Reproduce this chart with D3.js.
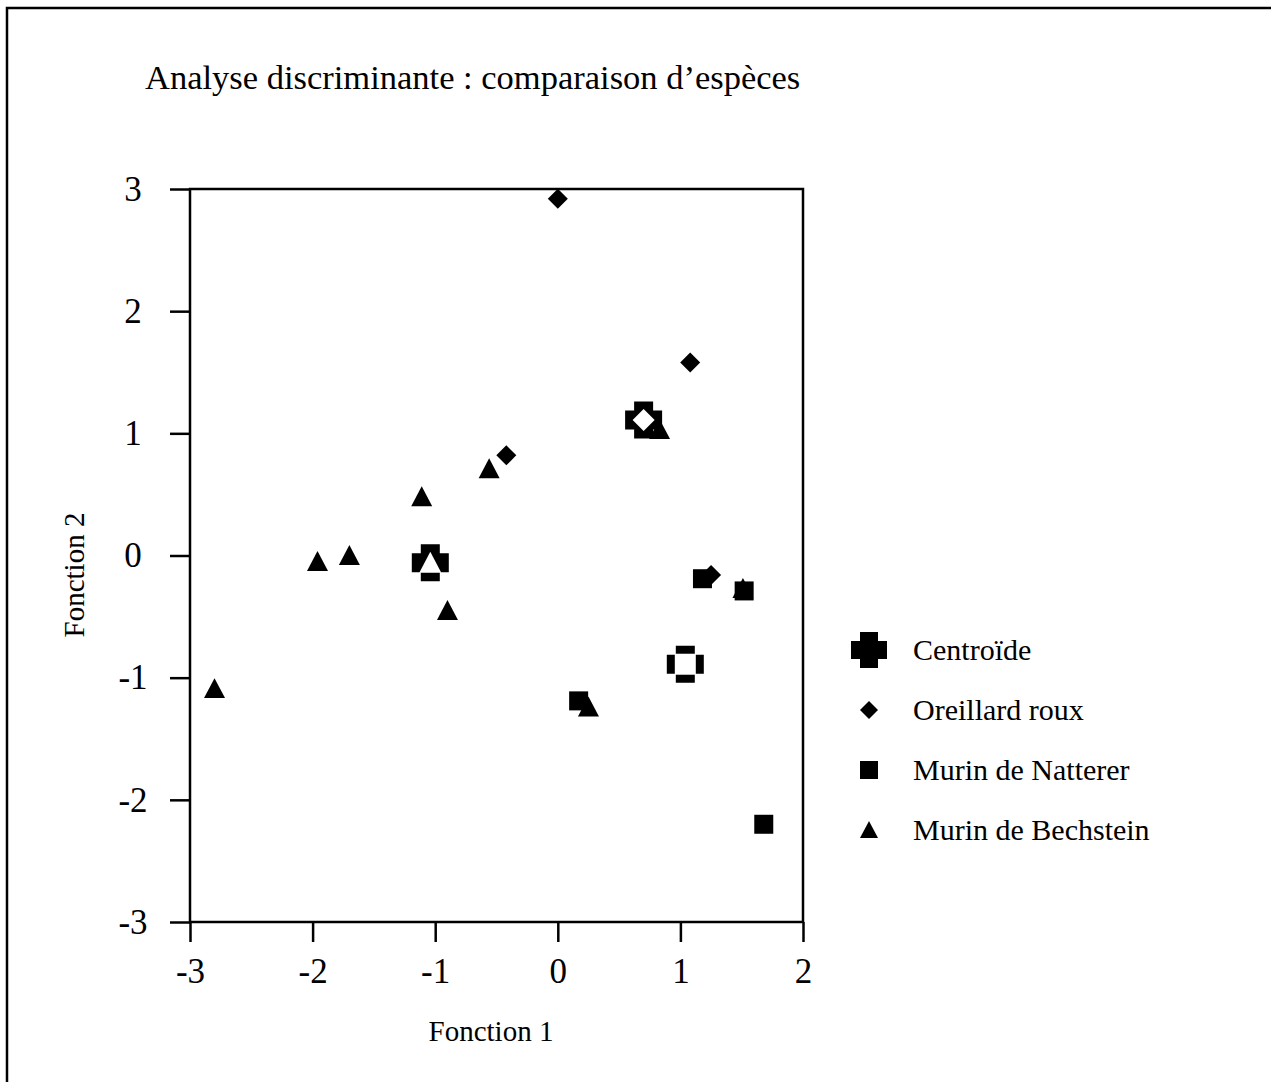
<!DOCTYPE html>
<html>
<head>
<meta charset="utf-8">
<script src="https://cdn.jsdelivr.net/npm/d3@7"></script>
<style>
  html, body { margin: 0; padding: 0; background: #fff; }
  svg { display: block; }
  text { font-family: "Liberation Serif", "Times New Roman", serif; fill: #000; }
</style>
</head>
<body>
<svg id="chart" width="1271" height="1082"></svg>
<script>
// Discriminant scores on the first two functions, one array per species
const oreillardX = [0.00, 1.08, -0.42, 1.25];
const oreillardY = [2.92, 1.58, 0.82, -0.16];

const nattererX = [1.18, 1.52, 0.17, 1.68];
const nattererY = [-0.19, -0.29, -1.19, -2.20];

const bechsteinX = [-2.80, -1.96, -1.70, -1.11, -0.90, -0.56, 0.83, 0.25, 1.51];
const bechsteinY = [-1.09, -0.05, 0.00, 0.48, -0.45, 0.71, 1.03, -1.24, -0.27];

// Group centroids (Oreillard roux, Murin de Natterer, Murin de Bechstein)
const centroidX = [0.70, 1.04, -1.04];
const centroidY = [1.11, -0.89, -0.06];
const centroidGroup = ["diamond", "square", "triangle"];

const xTicks = [-3, -2, -1, 0, 1, 2];
const yTicks = [-3, -2, -1, 0, 1, 2, 3];

const legendLabels = ["Centroïde", "Oreillard roux", "Murin de Natterer", "Murin de Bechstein"];
const legendShapes = ["centroid", "diamond", "square", "triangle"];

const titleText = "Analyse discriminante : comparaison d’espèces";
const xTitle = "Fonction 1";
const yTitle = "Fonction 2";

const svg = d3.select("#chart");

// outer frame
svg.append("rect")
  .attr("x", 7).attr("y", 8).attr("width", 1280).attr("height", 1100)
  .attr("fill", "none").attr("stroke", "#000").attr("stroke-width", 2.5);

const plot = { left: 190, right: 803, top: 189, bottom: 922 };
const x = d3.scaleLinear().domain([-3, 2]).range([plot.left, plot.right]);
const y = d3.scaleLinear().domain([-3, 3]).range([plot.bottom, plot.top]);

// title
svg.append("text")
  .attr("x", 145).attr("y", 89)
  .attr("font-size", 34.5)
  .text(titleText);

// plot box
svg.append("rect")
  .attr("x", plot.left).attr("y", plot.top)
  .attr("width", plot.right - plot.left).attr("height", plot.bottom - plot.top)
  .attr("fill", "none").attr("stroke", "#000").attr("stroke-width", 2.5);

// axes
const xAxis = svg.append("g")
  .attr("transform", `translate(0,${plot.bottom})`)
  .call(d3.axisBottom(x).tickValues(xTicks).tickSize(20).tickPadding(16).tickFormat(d3.format("d")));
const yAxis = svg.append("g")
  .attr("transform", `translate(${plot.left},0)`)
  .call(d3.axisLeft(y).tickValues(yTicks).tickSize(20).tickPadding(22).tickFormat(d3.format("d")));

[xAxis, yAxis].forEach(g => {
  g.select(".domain").remove();
  g.selectAll(".tick line").attr("stroke", "#000").attr("stroke-width", 2.5);
  g.selectAll(".tick text")
    .attr("font-family", "Liberation Serif, serif")
    .attr("font-size", 35)
    .attr("fill", "#000")
    .text(d => d < 0 ? "-" + Math.abs(d) : String(d));
});
// vertical-axis labels sit centred in their column
yAxis.selectAll(".tick text").attr("text-anchor", "middle").attr("x", -57);

// axis titles
svg.append("text")
  .attr("x", 491).attr("y", 1041)
  .attr("text-anchor", "middle")
  .attr("font-size", 29)
  .text(xTitle);
svg.append("text")
  .attr("transform", "translate(84,575) rotate(-90)")
  .attr("text-anchor", "middle")
  .attr("font-size", 29)
  .text(yTitle);

// marker paths, centred on the origin
function shapePath(kind, s) {
  const h = s / 2;
  if (kind === "diamond") return `M0,${-h}L${h},0L0,${h}L${-h},0Z`;
  if (kind === "square") return `M${-h},${-h}H${h}V${h}H${-h}Z`;
  if (kind === "triangle") {
    return `M0,${-h}L${h},${h * 0.9}L${-h},${h * 0.9}Z`;
  }
  return "";
}
function crossPath(s, notch) {
  const h = s / 2, n = h - notch;
  return `M${-n},${-h}H${n}V${-n}H${h}V${n}H${n}V${h}H${-n}V${n}H${-h}V${-n}H${-n}Z`;
}

const marks = svg.append("g");
function drawSeries(xs, ys, kind, size) {
  marks.selectAll(null)
    .data(xs.map((v, i) => [v, ys[i]]))
    .join("path")
    .attr("transform", d => `translate(${x(d[0])},${y(d[1])})`)
    .attr("d", shapePath(kind, size))
    .attr("fill", "#000");
}

drawSeries(bechsteinX, bechsteinY, "triangle", 21);
drawSeries(oreillardX, oreillardY, "diamond", 20);
drawSeries(nattererX, nattererY, "square", 19);

// centroids: a black block cross with the group's symbol in white
const cent = marks.selectAll(null)
  .data(centroidX.map((v, i) => ({ x: v, y: centroidY[i], g: centroidGroup[i] })))
  .join("g")
  .attr("transform", d => `translate(${x(d.x)},${y(d.y)})`);
cent.append("path").attr("d", crossPath(37, 9)).attr("fill", "#000");
cent.append("path")
  .attr("d", d => shapePath(d.g, d.g === "square" ? 21 : 22))
  .attr("fill", "#fff");

// legend
const legend = svg.append("g").attr("transform", "translate(869,650)");
const rows = legend.selectAll("g")
  .data(legendLabels.map((l, i) => ({ label: l, shape: legendShapes[i] })))
  .join("g")
  .attr("transform", (d, i) => `translate(0,${i * 60})`);
rows.append("path")
  .attr("d", d => d.shape === "centroid" ? crossPath(36, 9) : shapePath(d.shape, 18))
  .attr("fill", "#000");
rows.append("text")
  .attr("x", 44).attr("y", 10)
  .attr("font-size", 30)
  .text(d => d.label);
</script>
</body>
</html>
